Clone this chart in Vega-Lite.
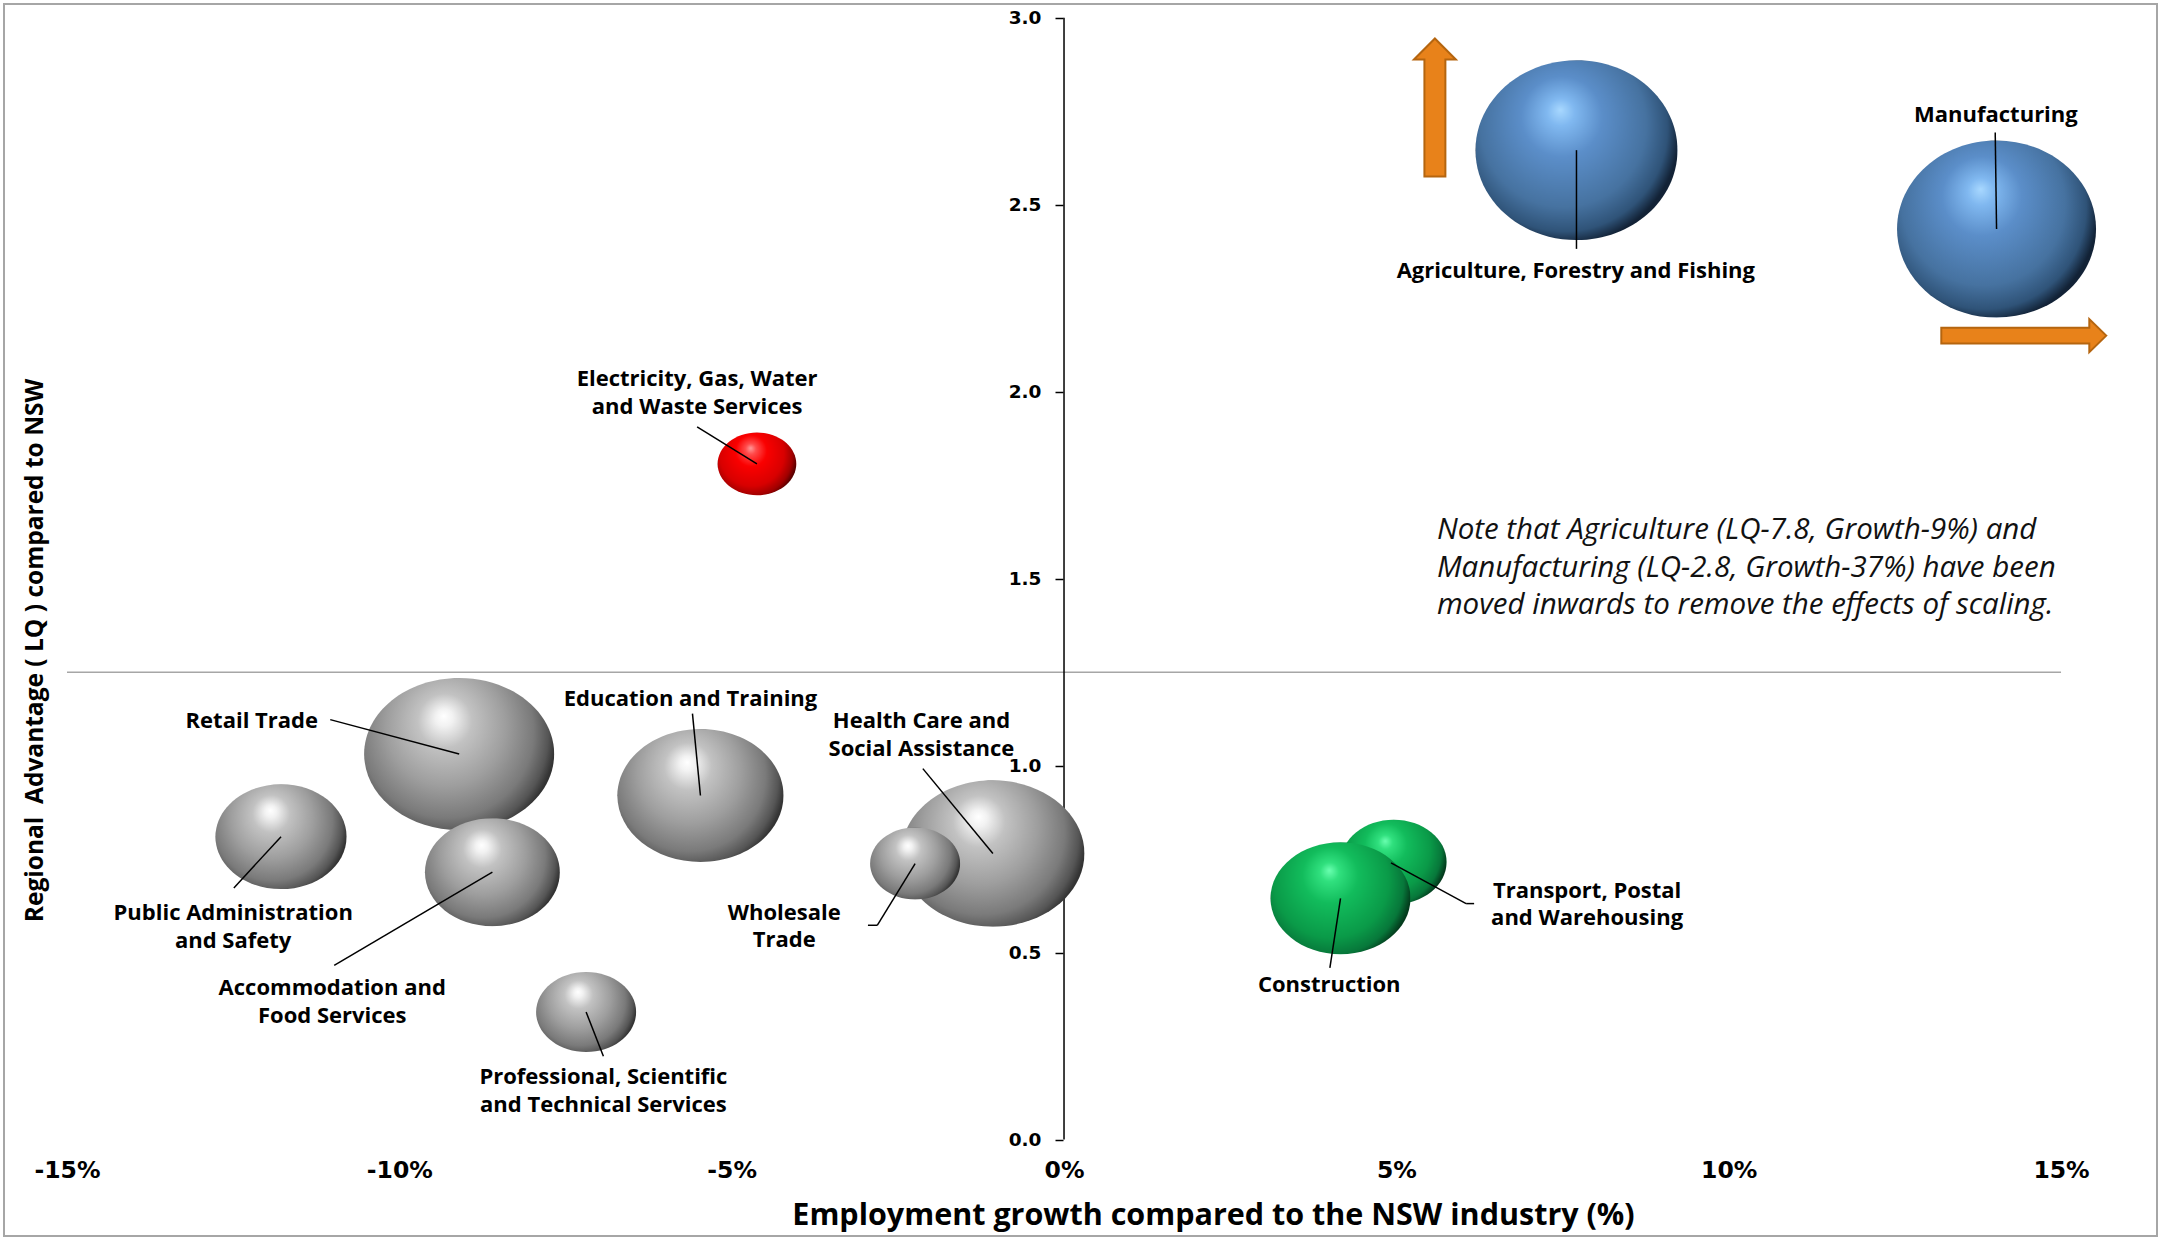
{
  "$schema": "https://vega.github.io/schema/vega-lite/v6.json",
  "width": 2153,
  "height": 1232,
  "padding": {"left": 4, "top": 4, "right": 4, "bottom": 4},
  "autosize": {"type": "none"},
  "background": "white",
  "config": {"view": {"stroke": "#a6a6a6", "strokeWidth": 2}},
  "datasets": {
    "refline": [{"x": -15, "x2": 15, "lq": 1.25}],
    "yline": [{"x": 0, "y": 0, "y2": 3}],
    "industries": [
      {"industry": "Public Administration and Safety", "group": "gray", "growth": -11.78, "lq": 0.81, "employment": 172, "label": "Public Administration\nand Safety", "label_x": -12.5, "label_y": 0.605},
      {"industry": "Retail Trade", "group": "gray", "growth": -9.1, "lq": 1.031, "employment": 361, "label": "Retail Trade", "label_x": -12.22, "label_y": 1.118},
      {"industry": "Accommodation and Food Services", "group": "gray", "growth": -8.6, "lq": 0.715, "employment": 182, "label": "Accommodation and\nFood Services", "label_x": -11.01, "label_y": 0.404},
      {"industry": "Education and Training", "group": "gray", "growth": -5.47, "lq": 0.92, "employment": 276, "label": "Education and Training", "label_x": -5.62, "label_y": 1.178},
      {"industry": "Professional, Scientific and Technical Services", "group": "gray", "growth": -7.19, "lq": 0.341, "employment": 100, "label": "Professional, Scientific\nand Technical Services", "label_x": -6.93, "label_y": 0.167},
      {"industry": "Health Care and Social Assistance", "group": "gray", "growth": -1.07, "lq": 0.765, "employment": 335, "label": "Health Care and\nSocial Assistance", "label_x": -2.145, "label_y": 1.119},
      {"industry": "Wholesale Trade", "group": "gray", "growth": -2.24, "lq": 0.738, "employment": 81, "label": "Wholesale\nTrade", "label_x": -4.21, "label_y": 0.607},
      {"industry": "Electricity, Gas, Water and Waste Services", "group": "red", "growth": -4.62, "lq": 1.807, "employment": 62, "label": "Electricity, Gas, Water\nand Waste Services", "label_x": -5.52, "label_y": 2.033},
      {"industry": "Transport, Postal and Warehousing", "group": "green", "growth": 4.96, "lq": 0.742, "employment": 112, "label": "Transport, Postal\nand Warehousing", "label_x": 7.87, "label_y": 0.666},
      {"industry": "Construction", "group": "green", "growth": 4.16, "lq": 0.645, "employment": 196, "label": "Construction", "label_x": 3.99, "label_y": 0.414},
      {"industry": "Agriculture, Forestry and Fishing", "group": "blue", "growth": 7.71, "lq": 2.646, "employment": 408, "label": "Agriculture, Forestry and Fishing", "label_x": 7.7, "label_y": 2.323},
      {"industry": "Manufacturing", "group": "blue", "growth": 14.03, "lq": 2.435, "employment": 396, "label": "Manufacturing", "label_x": 14.02, "label_y": 2.739}
    ],
    "leaders": [
      {"x": -11.04, "y": 1.123, "x2": -9.1, "y2": 1.031},
      {"x": -12.49, "y": 0.673, "x2": -11.78, "y2": 0.81},
      {"x": -10.98, "y": 0.466, "x2": -8.6, "y2": 0.715},
      {"x": -5.59, "y": 1.139, "x2": -5.47, "y2": 0.92},
      {"x": -2.124, "y": 0.992, "x2": -1.07, "y2": 0.765},
      {"x": -2.95, "y": 0.573, "x2": -2.81, "y2": 0.573},
      {"x": -2.81, "y": 0.573, "x2": -2.24, "y2": 0.738},
      {"x": -6.93, "y": 0.223, "x2": -7.19, "y2": 0.341},
      {"x": -5.52, "y": 1.906, "x2": -4.62, "y2": 1.807},
      {"x": 4.0, "y": 0.459, "x2": 4.16, "y2": 0.645},
      {"x": 6.17, "y": 0.631, "x2": 6.05, "y2": 0.631},
      {"x": 6.05, "y": 0.631, "x2": 4.92, "y2": 0.74},
      {"x": 7.71, "y": 2.646, "x2": 7.71, "y2": 2.382},
      {"x": 14.03, "y": 2.435, "x2": 14.01, "y2": 2.693}
    ],
    "arrows": [
      {"direction": "up", "x": 5.58, "y": 2.76},
      {"direction": "right", "x": 14.44, "y": 2.15}
    ],
    "note": [
      {"x": 5.61, "y": 1.629, "text": "Note that Agriculture (LQ-7.8, Growth-9%) and\nManufacturing (LQ-2.8, Growth-37%) have been\nmoved inwards to remove the effects of scaling."}
    ]
  },
  "layer": [
    {
      "data": {"name": "refline"},
      "mark": {"type": "rule", "color": "#a6a6a6", "strokeWidth": 1.5},
      "encoding": {
        "x": {
          "field": "x", "type": "quantitative",
          "scale": {"domain": [-15.948, 16.444], "nice": false, "zero": false},
          "axis": {
            "title": "Employment growth compared to the NSW industry (%)",
            "values": [-15, -10, -5, 0, 5, 10, 15],
            "labelExpr": "datum.value + '%'",
            "domain": false, "ticks": false, "tickSize": 0, "grid": false,
            "offset": -96.5,
            "labelPadding": 19,
            "labelFont": "DejaVu Sans", "labelFontWeight": "bold", "labelFontSize": 23.5, "labelColor": "#000000",
            "labelFlush": false, "labelOverlap": false,
            "titleFont": "Open Sans", "titleFontWeight": "bold", "titleFontSize": 30.5, "titleColor": "#000000",
            "titleX": 1209, "titleY": 76, "titleBaseline": "middle", "titleAlign": "center"
          }
        },
        "x2": {"field": "x2"},
        "y": {
          "field": "lq", "type": "quantitative",
          "scale": {"domain": [-0.258, 3.0369], "nice": false, "zero": false},
          "axis": {
            "title": "Regional \u00a0Advantage ( LQ ) compared to NSW",
            "values": [0, 0.5, 1, 1.5, 2, 2.5, 3],
            "format": ".1f",
            "domain": false, "grid": false,
            "ticks": true, "tickSize": 8, "tickColor": "#000000", "tickWidth": 1.5,
            "offset": -1059,
            "labelPadding": 14,
            "labelFont": "DejaVu Sans", "labelFontWeight": "bold", "labelFontSize": 18.5, "labelColor": "#000000",
            "labelFlush": false, "labelOverlap": false,
            "titleFont": "Open Sans", "titleFontWeight": "bold", "titleFontSize": 24.5, "titleColor": "#000000",
            "titleX": -1028, "titleY": 646, "titleAngle": -90, "titleBaseline": "middle", "titleAlign": "center"
          }
        }
      }
    },
    {
      "data": {"name": "yline"},
      "mark": {"type": "rule", "color": "#000000", "strokeWidth": 1.5},
      "encoding": {
        "x": {"field": "x", "type": "quantitative"},
        "y": {"field": "y", "type": "quantitative"},
        "y2": {"field": "y2"}
      }
    },
    {
      "data": {"name": "industries"},
      "transform": [{"filter": "datum.group == 'gray'"}],
      "mark": {
        "type": "point", "filled": true, "opacity": 1, "strokeWidth": 0,
        "shape": "M 1 0 C 1 0.4418 0.5523 0.8 0 0.8 C -0.5523 0.8 -1 0.4418 -1 0 C -1 -0.4418 -0.5523 -0.8 0 -0.8 C 0.5523 -0.8 1 -0.4418 1 0 Z",
        "fill": {"gradient": "radial", "x1": 0.42, "y1": 0.3, "r1": 0, "x2": 0.44, "y2": 0.4, "r2": 0.57,
          "stops": [{"offset": 0, "color": "#ffffff"}, {"offset": 0.08, "color": "#f2f2f2"}, {"offset": 0.25, "color": "#c2c2c2"}, {"offset": 0.55, "color": "#9e9e9e"}, {"offset": 0.8, "color": "#7a7a7a"}, {"offset": 0.93, "color": "#555555"}, {"offset": 1, "color": "#333333"}]}
      },
      "encoding": {
        "x": {"field": "growth", "type": "quantitative"},
        "y": {"field": "lq", "type": "quantitative"},
        "size": {"field": "employment", "type": "quantitative", "scale": {"domain": [0, 500], "range": [0, 50000]}, "legend": null}
      }
    },
    {
      "data": {"name": "industries"},
      "transform": [{"filter": "datum.group == 'red'"}],
      "mark": {
        "type": "point", "filled": true, "opacity": 1, "strokeWidth": 0,
        "shape": "M 1 0 C 1 0.4418 0.5523 0.8 0 0.8 C -0.5523 0.8 -1 0.4418 -1 0 C -1 -0.4418 -0.5523 -0.8 0 -0.8 C 0.5523 -0.8 1 -0.4418 1 0 Z",
        "fill": {"gradient": "radial", "x1": 0.42, "y1": 0.3, "r1": 0, "x2": 0.44, "y2": 0.4, "r2": 0.57,
          "stops": [{"offset": 0, "color": "#ff9a9a"}, {"offset": 0.12, "color": "#ff4a4a"}, {"offset": 0.35, "color": "#fa0000"}, {"offset": 0.72, "color": "#d80000"}, {"offset": 0.9, "color": "#a00000"}, {"offset": 1, "color": "#580000"}]}
      },
      "encoding": {
        "x": {"field": "growth", "type": "quantitative"},
        "y": {"field": "lq", "type": "quantitative"},
        "size": {"field": "employment", "type": "quantitative", "scale": {"domain": [0, 500], "range": [0, 50000]}, "legend": null}
      }
    },
    {
      "data": {"name": "industries"},
      "transform": [{"filter": "datum.group == 'green'"}],
      "mark": {
        "type": "point", "filled": true, "opacity": 1, "strokeWidth": 0,
        "shape": "M 1 0 C 1 0.4418 0.5523 0.8 0 0.8 C -0.5523 0.8 -1 0.4418 -1 0 C -1 -0.4418 -0.5523 -0.8 0 -0.8 C 0.5523 -0.8 1 -0.4418 1 0 Z",
        "fill": {"gradient": "radial", "x1": 0.42, "y1": 0.3, "r1": 0, "x2": 0.44, "y2": 0.4, "r2": 0.57,
          "stops": [{"offset": 0, "color": "#6affb0"}, {"offset": 0.12, "color": "#30e07e"}, {"offset": 0.35, "color": "#12bc5c"}, {"offset": 0.72, "color": "#0a9a48"}, {"offset": 0.9, "color": "#07773a"}, {"offset": 1, "color": "#033a1c"}]}
      },
      "encoding": {
        "x": {"field": "growth", "type": "quantitative"},
        "y": {"field": "lq", "type": "quantitative"},
        "size": {"field": "employment", "type": "quantitative", "scale": {"domain": [0, 500], "range": [0, 50000]}, "legend": null}
      }
    },
    {
      "data": {"name": "industries"},
      "transform": [{"filter": "datum.group == 'blue'"}],
      "mark": {
        "type": "point", "filled": true, "opacity": 1, "strokeWidth": 0,
        "shape": "M 1 0 C 1 0.4915 0.5523 0.89 0 0.89 C -0.5523 0.89 -1 0.4915 -1 0 C -1 -0.4915 -0.5523 -0.89 0 -0.89 C 0.5523 -0.89 1 -0.4915 1 0 Z",
        "fill": {"gradient": "radial", "x1": 0.42, "y1": 0.3, "r1": 0, "x2": 0.44, "y2": 0.4, "r2": 0.57,
          "stops": [{"offset": 0, "color": "#a8d8ff"}, {"offset": 0.12, "color": "#80b8f0"}, {"offset": 0.35, "color": "#5b8ec9"}, {"offset": 0.72, "color": "#4672a0"}, {"offset": 0.9, "color": "#2f5378"}, {"offset": 1, "color": "#122236"}]}
      },
      "encoding": {
        "x": {"field": "growth", "type": "quantitative"},
        "y": {"field": "lq", "type": "quantitative"},
        "size": {"field": "employment", "type": "quantitative", "scale": {"domain": [0, 500], "range": [0, 50000]}, "legend": null}
      }
    },
    {
      "data": {"name": "leaders"},
      "mark": {"type": "rule", "color": "#000000", "strokeWidth": 1.5},
      "encoding": {
        "x": {"field": "x", "type": "quantitative"},
        "y": {"field": "y", "type": "quantitative"},
        "x2": {"field": "x2"},
        "y2": {"field": "y2"}
      }
    },
    {
      "data": {"name": "industries"},
      "mark": {"type": "text", "font": "Open Sans", "fontWeight": "bold", "fontSize": 22, "color": "#000000", "lineBreak": "\n", "lineHeight": 27.5, "align": "center", "baseline": "middle"},
      "encoding": {
        "x": {"field": "label_x", "type": "quantitative"},
        "y": {"field": "label_y", "type": "quantitative"},
        "text": {"field": "label"}
      }
    },
    {
      "data": {"name": "arrows"},
      "transform": [{"filter": "datum.direction == 'up'"}],
      "mark": {"type": "point", "filled": true, "opacity": 1, "size": 19044, "fill": "#e8821a", "stroke": "#b5650f", "strokeWidth": 2,
        "shape": "M 0 -1 L 0.304 -0.696 L 0.152 -0.696 L 0.152 1 L -0.152 1 L -0.152 -0.696 L -0.304 -0.696 Z"},
      "encoding": {
        "x": {"field": "x", "type": "quantitative"},
        "y": {"field": "y", "type": "quantitative"}
      }
    },
    {
      "data": {"name": "arrows"},
      "transform": [{"filter": "datum.direction == 'right'"}],
      "mark": {"type": "point", "filled": true, "opacity": 1, "size": 27225, "fill": "#e8821a", "stroke": "#b5650f", "strokeWidth": 2,
        "shape": "M 1 0 L 0.794 -0.2 L 0.794 -0.095 L -1 -0.095 L -1 0.095 L 0.794 0.095 L 0.794 0.2 Z"},
      "encoding": {
        "x": {"field": "x", "type": "quantitative"},
        "y": {"field": "y", "type": "quantitative"}
      }
    },
    {
      "data": {"name": "note"},
      "mark": {"type": "text", "font": "Open Sans", "fontStyle": "italic", "fontSize": 29.5, "color": "#111111", "lineBreak": "\n", "lineHeight": 37.5, "align": "left", "baseline": "middle"},
      "encoding": {
        "x": {"field": "x", "type": "quantitative"},
        "y": {"field": "y", "type": "quantitative"},
        "text": {"field": "text"}
      }
    }
  ]
}
